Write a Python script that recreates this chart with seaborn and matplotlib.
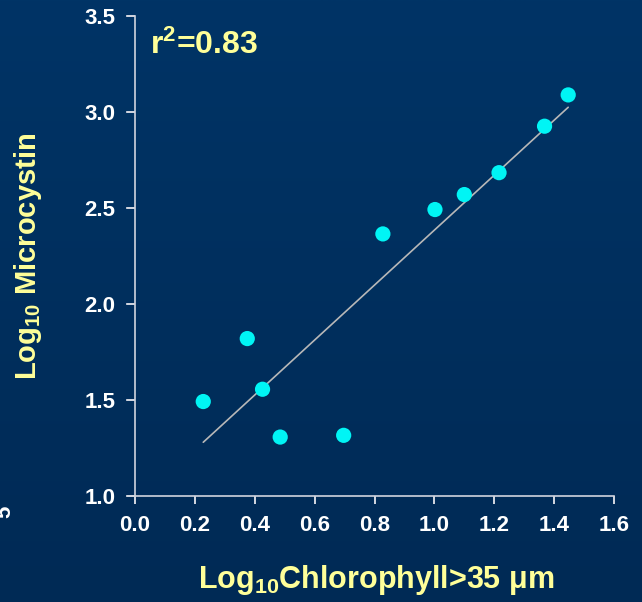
import numpy as np
import pandas as pd
import matplotlib
matplotlib.use("Agg")
import matplotlib.pyplot as plt
import seaborn as sns
from matplotlib.colors import LinearSegmentedColormap

# ---- data ----
log_chl = [0.228, 0.375, 0.426, 0.485, 0.697, 0.828, 1.002, 1.100, 1.216, 1.368, 1.447]
log_mc = [1.492, 1.820, 1.556, 1.307, 1.316, 2.365, 2.492, 2.570, 2.684, 2.926, 3.089]
x_ticks = [0.0, 0.2, 0.4, 0.6, 0.8, 1.0, 1.2, 1.4, 1.6]
y_ticks = [1.0, 1.5, 2.0, 2.5, 3.0, 3.5]
r2_text = r"r$^{2}$=0.83"

df = pd.DataFrame({"chl": log_chl, "mc": log_mc})

sns.set_theme(style="ticks")
plt.rcParams["font.family"] = ["Liberation Sans", "DejaVu Sans"]
plt.rcParams["font.weight"] = "bold"
plt.rcParams["mathtext.fontset"] = "custom"
plt.rcParams["mathtext.rm"] = "Liberation Sans:bold"
plt.rcParams["mathtext.it"] = "Liberation Sans:bold"
plt.rcParams["mathtext.bf"] = "Liberation Sans:bold"
plt.rcParams["mathtext.default"] = "rm"

W, H = 642, 602
fig = plt.figure(figsize=(W / 100, H / 100), dpi=100)

# background gradient
bg = fig.add_axes([0, 0, 1, 1], zorder=-10)
cmap = LinearSegmentedColormap.from_list("bg", ["#003466", "#002a55"])
bg.imshow(np.linspace(0, 1, 256).reshape(-1, 1), aspect="auto", cmap=cmap,
          extent=[0, 1, 0, 1])
bg.set_axis_off()

ax = fig.add_axes([135 / W, 1 - 496 / H, (614 - 135) / W, (496 - 16) / H])
ax.set_facecolor("none")

sns.regplot(data=df, x="chl", y="mc", ax=ax, ci=None,
            scatter_kws=dict(s=120, color="#00f5f5", edgecolor="none", alpha=1, zorder=3),
            line_kws=dict(color="#b8b8b8", lw=1.2, zorder=2))

ax.set_xlim(0, 1.6)
ax.set_ylim(1.0, 3.5)
ax.set_xticks(x_ticks)
ax.set_yticks(y_ticks)
ax.set_xticklabels([f"{v:.1f}" for v in x_ticks])
ax.set_yticklabels([f"{v:.1f}" for v in y_ticks])

for s in ["top", "right"]:
    ax.spines[s].set_visible(False)
for s in ["left", "bottom"]:
    ax.spines[s].set_color("#d0d4de")
    ax.spines[s].set_linewidth(1.2)

ax.tick_params(axis="both", which="major", direction="out", length=6, width=1.3,
               bottom=True, left=True, color="#e0e4ec",
               labelcolor="white", labelsize=16, pad=8)
for lab in ax.get_xticklabels() + ax.get_yticklabels():
    lab.set_fontweight("bold")

# explicit tick marks at the tick positions (outward, ~8 px)
tick_col = "#d0d4de"
ax.vlines(x_ticks, -0.017, 0, transform=ax.get_xaxis_transform(),
          colors=tick_col, lw=1.2, clip_on=False, zorder=5)
ax.hlines(y_ticks, -0.018, 0, transform=ax.get_yaxis_transform(),
          colors=tick_col, lw=1.2, clip_on=False, zorder=5)

ax.set_xlabel("")
ax.set_ylabel("")

yellow = "#ffff99"
fig.text(376 / W, 1 - 580 / H, r"Log$_{10}$Chlorophyll>35 μm", color=yellow,
         fontsize=22, fontweight="bold", ha="center", va="center")
fig.text(28 / W, 1 - 256 / H, r"Log$_{10}$ Microcystin", color=yellow,
         fontsize=21, fontweight="bold", ha="center", va="center", rotation=90)
fig.text(150 / W, 1 - 54 / H, r2_text, color=yellow, fontsize=23,
         fontweight="bold", ha="left", va="baseline")

# cropped fragment at left edge (present in the reference)
fig.text(-6 / W, 1 - 512 / H, "5", color="white", fontsize=16,
         fontweight="bold", ha="left", va="center", rotation=90)

fig.savefig("out.png", dpi=100)
